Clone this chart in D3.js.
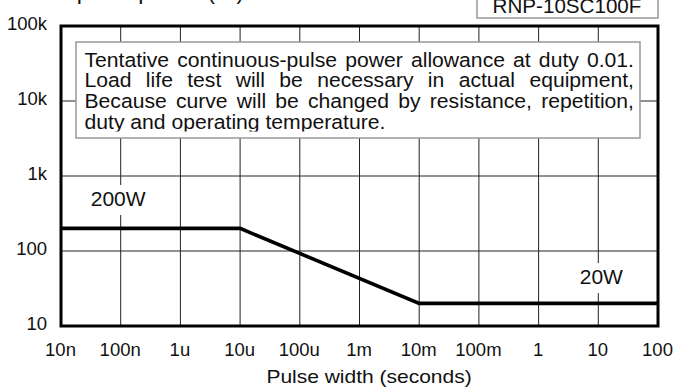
<!DOCTYPE html>
<html>
<head>
<meta charset="utf-8">
<script src="https://cdn.jsdelivr.net/npm/d3@7"></script>
<style>
  html, body { margin: 0; padding: 0; background: #fff; }
  svg { display: block; }
  text { font-family: "Liberation Sans", Arial, Helvetica, sans-serif; fill: #111; }
</style>
</head>
<body>
<svg id="chart" width="688" height="389"></svg>
<script>
// Pulse-width breakpoints (seconds) and allowed power (W)
const pulseWidths = [1e-8, 1e-5, 1e-2, 100];
const pulsePower  = [200, 200, 20, 20];

// Axis ticks
const xTicks  = [1e-8, 1e-7, 1e-6, 1e-5, 1e-4, 1e-3, 1e-2, 1e-1, 1, 10, 100];
const xLabels = ["10n", "100n", "1u", "10u", "100u", "1m", "10m", "100m", "1", "10", "100"];
const yTicks  = [10, 100, 1000, 10000, 100000];
const yLabels = ["10", "100", "1k", "10k", "100k"];

// Level labels, anchored on a grid column
const levelNotes = [
  { text: "200W", w: 1e-7, p: 200, dx: -2.5, dy: -22.4 },
  { text: "20W",  w: 10,   p: 20,  dx: 3,    dy: -19.4 }
];

const noteLines = [
  "Tentative continuous-pulse power allowance at duty 0.01.",
  "Load life test will be necessary in actual equipment,",
  "Because curve will be changed by resistance, repetition,",
  "duty and operating temperature."
];
const modelName = "RNP-10SC100F";

const svg = d3.select("#chart");
const L = 61, R = 658, T = 26, B = 326;

const x = d3.scaleLog().domain([1e-8, 100]).range([L, R]);
const y = d3.scaleLog().domain([10, 1e5]).range([B, T]);

// text drawn with a slight horizontal stretch
function wideText(parent, px, py, size, sx, str, anchor) {
  const g = parent.append("g").attr("transform", `translate(${px},${py}) scale(${sx},1)`);
  return g.append("text").attr("x", 0).attr("y", 0).attr("font-size", size)
    .attr("text-anchor", anchor || "start").text(str);
}

// grid
const grid = svg.append("g").attr("stroke", "#222").attr("stroke-width", 1);
grid.selectAll("line.v").data(xTicks.slice(1, -1)).join("line")
  .attr("x1", d => x(d)).attr("x2", d => x(d)).attr("y1", T).attr("y2", B);
grid.selectAll("line.h").data(yTicks.slice(1, -1)).join("line")
  .attr("y1", d => y(d)).attr("y2", d => y(d)).attr("x1", L).attr("x2", R);

// note box
const bx = 76, by = 42, bw = 564, bh = 96;
svg.append("rect").attr("x", bx).attr("y", by).attr("width", bw).attr("height", bh)
  .attr("fill", "#fff").attr("stroke", "#999").attr("stroke-width", 1.5);
svg.append("clipPath").attr("id", "noteClip").append("rect")
  .attr("x", bx).attr("y", by).attr("width", bw).attr("height", 89.5);
const noteG = svg.append("g").attr("clip-path", "url(#noteClip)");
const tx0 = 84.5, tx1 = 634, nsx = 1.085;
noteLines.forEach((line, i) => {
  const t = wideText(noteG, tx0, 66.8 + i * 20.6, 19.5, nsx, line);
  if (i < noteLines.length - 1) {
    const nat = t.node().getComputedTextLength();
    const spaces = line.split(" ").length - 1;
    t.attr("word-spacing", ((tx1 - tx0) / nsx - nat) / spaces);
  }
});

// level labels with white backing
levelNotes.forEach(n => {
  const g = svg.append("g");
  const t = g.append("text").attr("x", x(n.w) + n.dx).attr("y", y(n.p) + n.dy)
    .attr("font-size", 21).attr("text-anchor", "middle").text(n.text);
  const bb = t.node().getBBox();
  g.insert("rect", "text").attr("x", bb.x - 2).attr("y", bb.y - 2)
    .attr("width", bb.width + 4).attr("height", bb.height + 7).attr("fill", "#fff");
});

// curve
svg.append("path")
  .datum(pulseWidths.map((w, i) => [w, pulsePower[i]]))
  .attr("fill", "none").attr("stroke", "#000").attr("stroke-width", 3.6)
  .attr("stroke-linejoin", "miter")
  .attr("d", d3.line().x(d => x(d[0])).y(d => y(d[1])));

// frame
svg.append("rect").attr("x", L).attr("y", T).attr("width", R - L).attr("height", B - T)
  .attr("fill", "none").attr("stroke", "#000").attr("stroke-width", 3);

// axes (labels only)
const xAxis = d3.axisBottom(x).tickValues(xTicks).tickFormat((d, i) => xLabels[i]).tickSize(0).tickPadding(0);
const gx = svg.append("g").attr("transform", `translate(-1,${B})`).call(xAxis);
gx.select(".domain").remove();
gx.selectAll("text").attr("dy", null).attr("y", 30).attr("font-size", 18.5)
  .attr("font-family", null).attr("fill", "#111");

const yAxis = d3.axisLeft(y).tickValues(yTicks).tickFormat((d, i) => yLabels[i]).tickSize(0).tickPadding(0);
const gy = svg.append("g").attr("transform", `translate(47,0)`).call(yAxis);
gy.select(".domain").remove();
gy.selectAll("text").attr("dy", null).attr("y", 3.8).attr("x", 0).attr("font-size", 18.5)
  .attr("font-family", null).attr("fill", "#111");
svg.selectAll(".tick line").remove();

// axis titles
wideText(svg, 369, 383, 17.5, 1.2, "Pulse width (seconds)", "middle");
svg.append("text").attr("x", 18).attr("y", -1).attr("font-size", 23).text("Peak pulse power (W)");

// model tag
svg.append("rect").attr("x", 477).attr("y", -10).attr("width", 181).attr("height", 28)
  .attr("fill", "#fff").attr("stroke", "#999").attr("stroke-width", 1.5);
svg.append("text").attr("x", 567).attr("y", 13).attr("text-anchor", "middle")
  .attr("font-size", 20.6).text(modelName);
</script>
</body>
</html>
